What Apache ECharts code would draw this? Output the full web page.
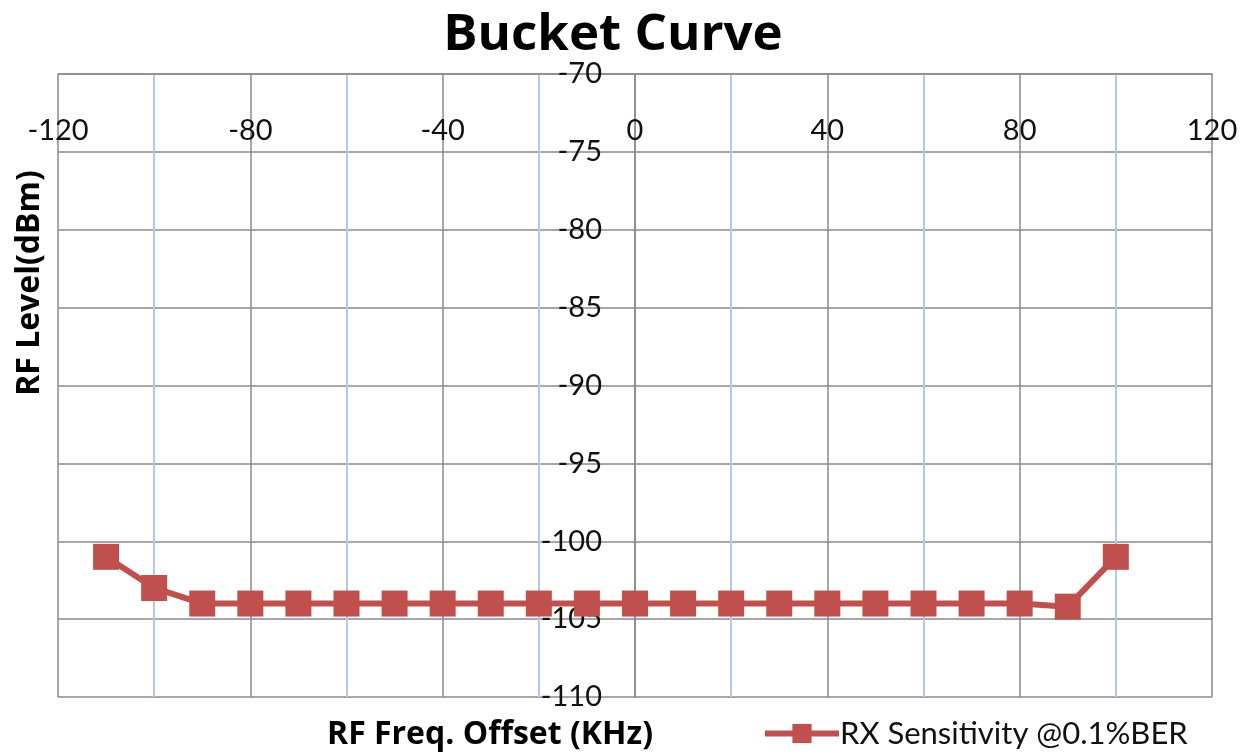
<!DOCTYPE html>
<html>
<head>
<meta charset="utf-8">
<script src="https://cdn.jsdelivr.net/npm/echarts@6/dist/echarts.min.js"></script>
<style>
  html, body { margin: 0; padding: 0; background: #fff; }
  #chart { width: 1252px; height: 755px; }
</style>
</head>
<body>
<div id="chart"></div>
<script>
// Frequency offsets (kHz) and measured sensitivity levels (dBm)
const freqOffsets = [-110, -100, -90, -80, -70, -60, -50, -40, -30, -20, -10, 0, 10, 20, 30, 40, 50, 60, 70, 80, 90, 100];
const rxSensitivity = [-101, -103, -104, -104, -104, -104, -104, -104, -104, -104, -104, -104, -104, -104, -104, -104, -104, -104, -104, -104, -104.2, -101];
const seriesName = 'RX Sensitivity @0.1%BER';
const chartTitle = 'Bucket Curve';
const xAxisTitle = 'RF Freq. Offset (KHz)';
const yAxisTitle = 'RF Level(dBm)';

const FONT = 'Lato, "Open Sans", sans-serif';
const BOLD_FONT = '"Open Sans", Lato, sans-serif';
const RED = '#c0504d';
const GRID = '#8a8a8a';

const GRID_LEFT = 58, GRID_RIGHT = 40;
const PLOT_W = 1252 - GRID_LEFT - GRID_RIGHT;
const X_MIN = -120, X_MAX = 120;
// shift the value axis inward so it crosses the frequency axis at 0 kHz
const yAxisOffset = -PLOT_W * (0 - X_MIN) / (X_MAX - X_MIN);

const chart = echarts.init(document.getElementById('chart'), null, { renderer: 'canvas' });

chart.setOption({
  backgroundColor: '#fff',
  animation: false,
  grid: { left: GRID_LEFT, top: 74, right: GRID_RIGHT, bottom: 58, containLabel: false, outerBoundsMode: 'none' },
  xAxis: {
    type: 'value',
    position: 'top',
    min: X_MIN, max: X_MAX, interval: 40,
    axisLine: { show: true, lineStyle: { color: GRID, width: 1.5 } },
    axisTick: { show: false },
    axisLabel: { inside: true, margin: 42, color: '#111', fontFamily: FONT, fontSize: 29 },
    splitLine: { show: true, lineStyle: { color: GRID, width: 1.5 } },
    minorTick: { show: false, splitNumber: 2 },
    minorSplitLine: { show: true, lineStyle: { color: '#b3c8ef', width: 2 } }
  },
  yAxis: {
    type: 'value',
    position: 'left',
    offset: yAxisOffset,
    min: -110, max: -70, interval: 5,
    axisLine: { show: true, onZero: false, lineStyle: { color: GRID, width: 1.5 } },
    axisTick: { show: false },
    axisLabel: { margin: 33, color: '#111', fontFamily: FONT, fontSize: 29 },
    splitLine: { show: true, lineStyle: { color: GRID, width: 1.5 } }
  },
  legend: {
    left: 757, top: 713,
    itemWidth: 74, itemHeight: 24, itemGap: 6,
    lineStyle: { width: 6 },
    textStyle: { color: '#111', fontFamily: FONT, fontSize: 31, padding: [0, 0, 0, -4] },
    data: [seriesName]
  },
  graphic: [
    {
      type: 'text', x: 613, y: 35,
      style: { text: chartTitle, fill: '#000', font: 'bold 51px ' + BOLD_FONT, align: 'center', verticalAlign: 'middle' }
    },
    {
      type: 'text', x: 490, y: 735,
      style: { text: xAxisTitle, fill: '#000', font: 'bold 32px ' + BOLD_FONT, align: 'center', verticalAlign: 'middle' }
    },
    {
      type: 'text', x: 30, y: 283, rotation: Math.PI / 2,
      style: { text: yAxisTitle, fill: '#000', font: 'bold 32px ' + BOLD_FONT, align: 'center', verticalAlign: 'middle' }
    }
  ],
  series: [{
    name: seriesName,
    type: 'line',
    data: freqOffsets.map((x, i) => [x, rxSensitivity[i]]),
    symbol: 'rect',
    symbolSize: 26,
    itemStyle: { color: RED },
    lineStyle: { color: RED, width: 6 },
    z: 5
  }]
});
</script>
</body>
</html>
